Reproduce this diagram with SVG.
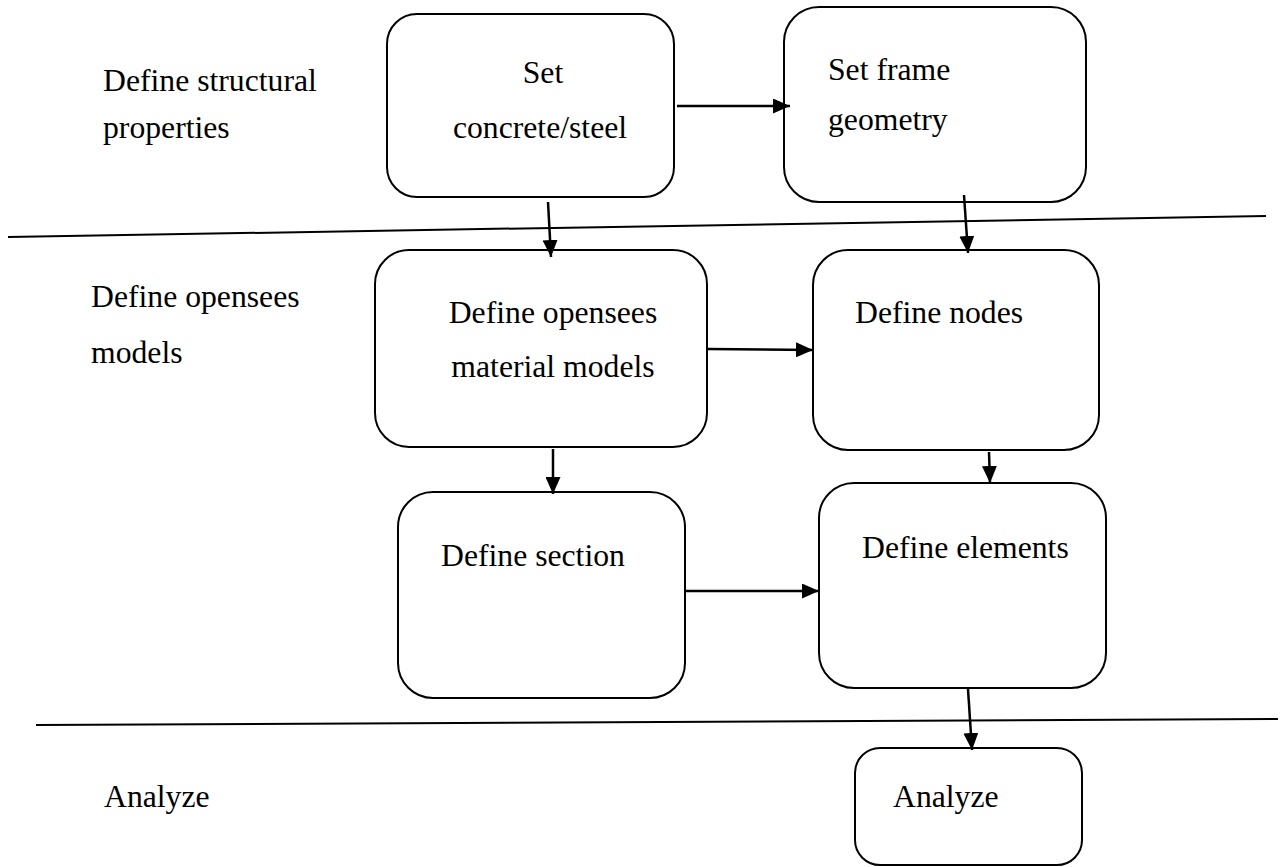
<svg xmlns="http://www.w3.org/2000/svg" width="1280" height="867" viewBox="0 0 1280 867">
<style>
.box{fill:#fff;stroke:#000;stroke-width:2}
.t{font-family:"Liberation Serif","Times New Roman",serif;font-size:31.7px;fill:#000}
.m{text-anchor:middle}
.sep{stroke:#000;stroke-width:2;fill:none}
.arr{stroke:#000;stroke-width:2.5;fill:none;marker-end:url(#ah)}
</style>
<defs>
<marker id="ah" viewBox="0 0 17 15" refX="17" refY="7.5" markerWidth="17" markerHeight="15" markerUnits="userSpaceOnUse" orient="auto">
<path d="M0,0 L17,7.5 L0,15 z" fill="#000"/>
</marker>
</defs>
<rect width="1280" height="867" fill="#fff"/>
<g id="lanes">
<line class="sep" x1="8" y1="237" x2="1266" y2="216"/>
<line class="sep" x1="36" y1="725" x2="1278" y2="719"/>
<text class="t" x="103" y="91">Define structural</text>
<text class="t" x="103" y="138">properties</text>
<text class="t" x="91" y="307">Define opensees</text>
<text class="t" x="91" y="363">models</text>
<text class="t" x="104" y="807">Analyze</text>
</g>
<g id="node-concrete">
<rect class="box" x="387" y="14" width="287" height="183" rx="30"/>
<text class="t m" x="543" y="83">Set</text>
<text class="t m" x="540" y="138">concrete/steel</text>
</g>
<g id="node-frame">
<rect class="box" x="784" y="7" width="302" height="195" rx="35"/>
<text class="t" x="828" y="80">Set frame</text>
<text class="t" x="828" y="130">geometry</text>
</g>
<g id="node-material">
<rect class="box" x="375" y="250" width="332" height="197" rx="34"/>
<text class="t m" x="553" y="323">Define opensees</text>
<text class="t m" x="553" y="377">material models</text>
</g>
<g id="node-nodes">
<rect class="box" x="813" y="250" width="286" height="200" rx="35"/>
<text class="t" x="855" y="323">Define nodes</text>
</g>
<g id="node-section">
<rect class="box" x="398" y="492" width="287" height="206" rx="35"/>
<text class="t" x="441" y="566">Define section</text>
</g>
<g id="node-elements">
<rect class="box" x="819" y="483" width="287" height="205" rx="35"/>
<text class="t" x="862" y="558">Define elements</text>
</g>
<g id="node-analyze">
<rect class="box" x="855" y="748" width="227" height="117" rx="25"/>
<text class="t" x="893" y="807">Analyze</text>
</g>
<g id="connectors">
<line class="arr" x1="548" y1="202" x2="551" y2="257"/>
<line class="arr" x1="677" y1="106" x2="790" y2="106"/>
<line class="arr" x1="964" y1="195" x2="968" y2="253"/>
<line class="arr" x1="553" y1="449" x2="553" y2="494"/>
<line class="arr" x1="708" y1="349" x2="813" y2="350"/>
<line class="arr" x1="989" y1="452" x2="990" y2="483"/>
<line class="arr" x1="686" y1="591" x2="819" y2="591"/>
<line class="arr" x1="968" y1="689" x2="972" y2="750"/>
</g>
</svg>
